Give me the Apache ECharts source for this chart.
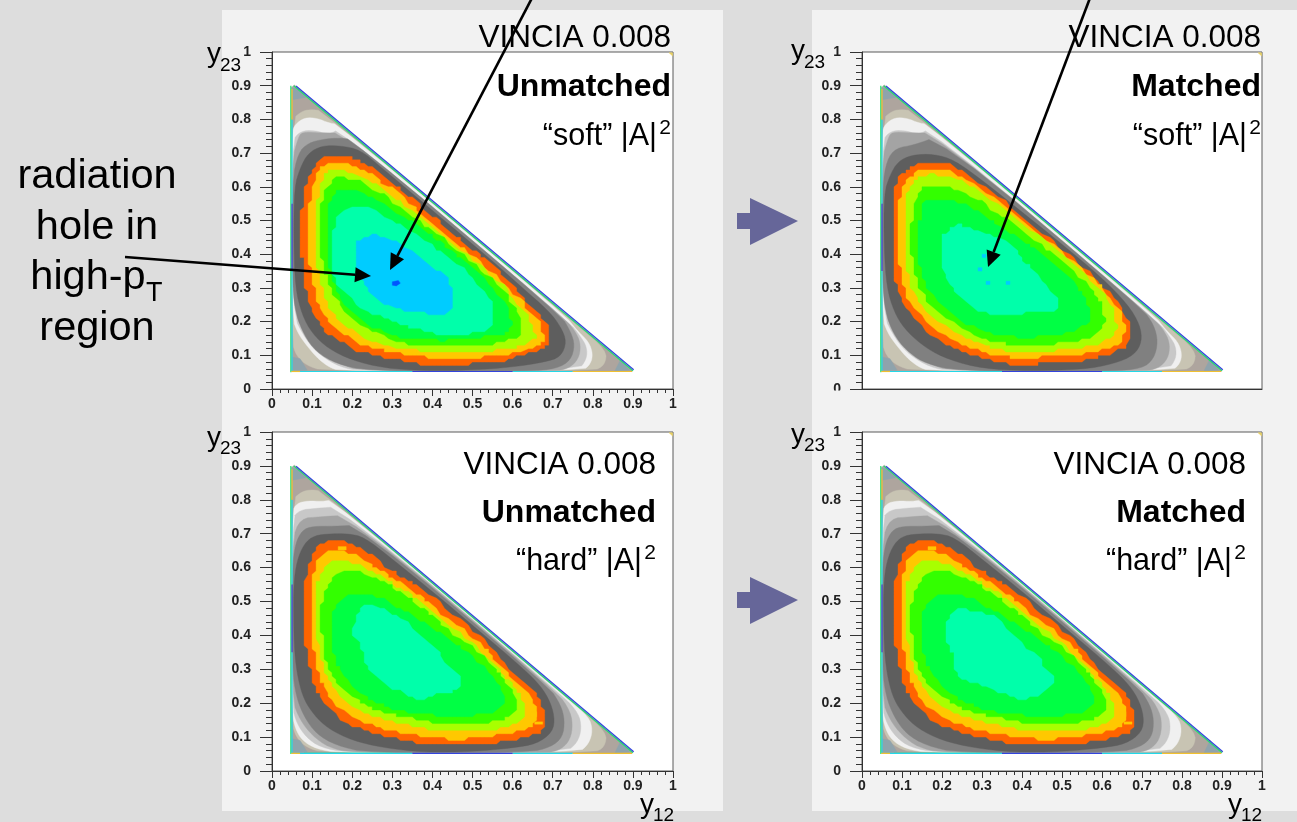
<!DOCTYPE html>
<html><head><meta charset="utf-8">
<style>html,body{margin:0;padding:0;background:#DDDDDD}#c{width:1297px;height:822px}</style>
<script src="https://cdn.jsdelivr.net/npm/echarts@6/dist/echarts.min.js"></script>
</head><body><div id="c"></div>
<script>
// ---- contour outlines in (y12, y23) ----
const phaseSpace=[[.048,.052],[.048,.895],[.056,.902],[.90,.056],[.898,.052]];
const cornerTL=[[.051,.893],[.062,.893],[.085,.865],[.051,.858]];
const cornerBL=[[.051,.095],[.07,.09],[.088,.056],[.051,.054]];
const cornerBR=[[.87,.09],[.892,.056],[.855,.054]];
const cornerFar=[[.99,.998],[.999,.998],[.999,.988]];
const taupeBand=[[.05,.80],[.075,.825],[.10,.83],[.125,.825],[.76,.19],[.835,.115],[.83,.07],[.80,.053],[.13,.053],[.085,.07],[.06,.10],[.05,.14]];

const softWhite=[[.05,.76],[.057,.785],[.082,.806],[.115,.803],[.14,.79],[.165,.785],[.73,.22],[.76,.175],[.79,.14],[.80,.105],[.795,.075],[.775,.054],[.17,.053],[.14,.066],[.11,.095],[.082,.136],[.065,.165],[.05,.21]];
const softGray1=[[.05,.735],[.07,.765],[.105,.768],[.14,.755],[.17,.772],[.74,.20],[.77,.155],[.785,.125],[.785,.09],[.765,.056],[.22,.053],[.17,.065],[.12,.10],[.085,.145],[.05,.225]];
const softGray2=[[.05,.68],[.065,.745],[.075,.763],[.12,.76],[.18,.76],[.73,.21],[.76,.165],[.77,.13],[.765,.09],[.74,.06],[.70,.053],[.22,.053],[.17,.075],[.125,.105],[.09,.15],[.05,.24]];
const hardWhite=[[.05,.765],[.062,.79],[.09,.797],[.125,.795],[.152,.80],[.74,.21],[.79,.16],[.80,.12],[.79,.08],[.765,.054],[.17,.053],[.11,.065],[.075,.09],[.058,.125],[.05,.17]];
const hardGray1=[[.05,.745],[.07,.77],[.11,.775],[.168,.78],[.725,.222],[.765,.17],[.772,.125],[.762,.085],[.735,.056],[.19,.053],[.12,.07],[.085,.10],[.062,.14],[.05,.19]];
const hardGray2=[[.05,.68],[.07,.745],[.12,.75],[.19,.755],[.71,.235],[.745,.175],[.75,.125],[.74,.085],[.715,.06],[.68,.053],[.20,.053],[.14,.07],[.10,.105],[.07,.15],[.05,.21]];
const hardGray3=[[.051,.60],[.058,.67],[.075,.71],[.10,.722],[.155,.722],[.215,.725],[.69,.25],[.72,.195],[.73,.15],[.725,.10],[.695,.07],[.64,.055],[.24,.053],[.16,.075],[.11,.11],[.08,.16],[.06,.22],[.051,.30]];
const hardDark=[[.054,.55],[.062,.62],[.08,.67],[.105,.695],[.15,.70],[.19,.70],[.23,.69],[.30,.625],[.40,.53],[.50,.43],[.60,.33],[.66,.265],[.69,.215],[.705,.16],[.70,.115],[.66,.08],[.60,.068],[.50,.057],[.38,.055],[.28,.068],[.20,.09],[.14,.125],[.105,.165],[.08,.21],[.065,.27],[.056,.35],[.054,.45]];

const p1Gray3=[[.051,.62],[.065,.70],[.09,.73],[.13,.742],[.17,.745],[.20,.74],[.72,.22],[.745,.17],[.755,.13],[.745,.085],[.71,.06],[.64,.053],[.24,.053],[.16,.075],[.11,.11],[.08,.16],[.06,.22],[.051,.30]];
const p1Dark=[[.056,.60],[.07,.655],[.09,.70],[.125,.722],[.17,.722],[.22,.71],[.27,.66],[.40,.53],[.55,.38],[.62,.305],[.69,.232],[.72,.185],[.735,.14],[.72,.095],[.68,.08],[.60,.065],[.50,.056],[.38,.054],[.28,.062],[.20,.085],[.14,.12],[.10,.165],[.075,.22],[.058,.30],[.054,.45]];
const p1Orange=[[.137,.695],[.170,.694],[.199,.687],[.228,.669],[.261,.649],[.295,.614],[.328,.585],[.362,.555],[.395,.520],[.428,.481],[.461,.451],[.495,.416],[.528,.392],[.561,.352],[.594,.317],[.624,.277],[.653,.237],[.686,.198],[.698,.144],[.677,.120],[.636,.105],[.569,.080],[.503,.075],[.436,.070],[.403,.065],[.353,.080],[.287,.090],[.220,.110],[.170,.140],[.137,.165],[.112,.205],[.091,.264],[.079,.323],[.075,.383],[.071,.462],[.075,.541],[.079,.590],[.096,.640],[.112,.675]];
const p1Amber=[[.14,.675],[.17,.672],[.21,.655],[.25,.635],[.29,.60],[.335,.562],[.39,.50],[.44,.45],[.50,.395],[.55,.345],[.60,.29],[.64,.235],[.67,.19],[.68,.145],[.66,.125],[.60,.105],[.53,.095],[.44,.088],[.36,.098],[.29,.11],[.23,.13],[.18,.16],[.145,.195],[.12,.24],[.105,.30],[.093,.37],[.09,.46],[.093,.54],[.10,.60],[.115,.645]];
const p1Lime=[[.15,.655],[.20,.64],[.24,.62],[.29,.58],[.34,.54],[.40,.48],[.45,.43],[.51,.375],[.56,.325],[.60,.275],[.635,.22],[.655,.175],[.655,.14],[.60,.12],[.52,.11],[.44,.105],[.36,.115],[.30,.125],[.24,.145],[.19,.18],[.16,.215],[.135,.26],[.12,.32],[.11,.38],[.107,.46],[.11,.54],[.12,.60],[.13,.635]];
const p1Green=[[.155,.63],[.21,.62],[.26,.59],[.31,.55],[.36,.505],[.42,.45],[.47,.405],[.53,.345],[.575,.295],[.605,.245],[.625,.195],[.62,.155],[.56,.135],[.48,.125],[.40,.125],[.33,.135],[.27,.16],[.215,.195],[.175,.24],[.15,.29],[.13,.35],[.118,.43],[.118,.52],[.13,.585]];
const p1Mint=[[.165,.595],[.22,.585],[.27,.555],[.32,.52],[.38,.47],[.44,.415],[.50,.36],[.55,.305],[.585,.25],[.60,.19],[.585,.165],[.53,.155],[.46,.145],[.39,.145],[.32,.152],[.26,.18],[.21,.215],[.175,.26],[.155,.31],[.14,.38],[.137,.46],[.14,.53],[.15,.57]];
const p1Spring=[[.17,.536],[.237,.541],[.287,.511],[.353,.462],[.403,.422],[.47,.363],[.52,.304],[.553,.254],[.553,.18],[.486,.16],[.42,.16],[.353,.18],[.287,.205],[.229,.234],[.179,.284],[.154,.333],[.145,.393],[.15,.462]];
const p1Sky=[[.212,.442],[.254,.462],[.303,.442],[.353,.403],[.395,.368],[.44,.333],[.453,.284],[.445,.215],[.387,.225],[.337,.23],[.287,.249],[.245,.284],[.229,.314],[.212,.363],[.204,.412]];
const p1Blue=[[.300,.318],[.315,.322],[.32,.314],[.31,.306],[.30,.308]];

const p2Gray3=[[.051,.60],[.062,.68],[.085,.715],[.13,.724],[.19,.75],[.70,.24],[.73,.19],[.74,.14],[.73,.09],[.70,.06],[.62,.053],[.24,.053],[.16,.075],[.12,.105],[.085,.15],[.062,.21],[.051,.30]];
const p2Dark=[[.055,.58],[.07,.635],[.09,.675],[.125,.695],[.18,.697],[.23,.68],[.30,.62],[.40,.525],[.50,.43],[.60,.33],[.665,.25],[.695,.19],[.70,.14],[.68,.10],[.63,.075],[.55,.057],[.38,.054],[.28,.065],[.20,.095],[.15,.13],[.105,.18],[.08,.23],[.062,.30],[.055,.42]];
const p2Orange=[[.141,.67],[.187,.675],[.22,.665],[.262,.635],[.312,.59],[.362,.551],[.411,.501],[.461,.452],[.511,.408],[.561,.353],[.611,.294],[.653,.234],[.676,.18],[.665,.126],[.611,.101],[.544,.081],[.47,.081],[.403,.068],[.328,.081],[.245,.111],[.179,.155],[.129,.205],[.096,.264],[.083,.323],[.075,.403],[.075,.511],[.081,.60],[.096,.635],[.12,.655]];
const p2Amber=[[.145,.65],[.19,.655],[.225,.645],[.27,.615],[.32,.575],[.37,.53],[.42,.48],[.47,.435],[.52,.39],[.57,.335],[.62,.275],[.65,.22],[.66,.17],[.645,.135],[.60,.115],[.53,.10],[.46,.097],[.40,.09],[.33,.10],[.26,.125],[.20,.16],[.15,.21],[.115,.265],[.10,.325],[.09,.40],[.09,.51],[.097,.59],[.115,.625]];
const p2Lime=[[.15,.635],[.20,.635],[.24,.62],[.28,.595],[.33,.555],[.38,.51],[.43,.465],[.48,.42],[.53,.37],[.58,.315],[.62,.26],[.635,.205],[.635,.165],[.60,.135],[.53,.12],[.46,.112],[.39,.108],[.33,.12],[.27,.145],[.21,.18],[.165,.225],[.13,.28],[.115,.335],[.105,.41],[.105,.51],[.112,.575],[.13,.615]];
const p2Green=[[.16,.605],[.22,.60],[.28,.57],[.33,.53],[.39,.48],[.44,.435],[.50,.38],[.55,.325],[.595,.265],[.61,.20],[.595,.16],[.53,.14],[.46,.132],[.39,.13],[.32,.14],[.26,.17],[.205,.21],[.165,.255],[.14,.31],[.125,.38],[.122,.47],[.13,.55],[.145,.59]];
const p2Mint=[[.16,.565],[.22,.565],[.28,.535],[.34,.485],[.40,.44],[.46,.39],[.51,.34],[.555,.28],[.575,.215],[.555,.18],[.49,.16],[.41,.152],[.33,.16],[.27,.19],[.22,.225],[.18,.27],[.155,.32],[.14,.39],[.14,.47],[.15,.54]];
const p2Spring=[[.204,.462],[.237,.49],[.262,.48],[.312,.462],[.362,.442],[.411,.373],[.461,.313],[.495,.264],[.49,.234],[.428,.229],[.362,.215],[.295,.229],[.254,.264],[.22,.304],[.2,.363],[.195,.422]];
const p2SkyA=[[.306,.322],[.32,.322],[.322,.31],[.306,.31]];
const p2SkyB=[[.29,.356],[.30,.356],[.30,.346],[.29,.346]];
const p2SkyC=[[.304,.404],[.312,.404],[.312,.392],[.304,.392]];
const p2SkyD=[[.36,.324],[.372,.324],[.372,.314],[.36,.314]];

const hardOrange=[[.125,.68],[.187,.677],[.22,.657],[.262,.623],[.32,.573],[.387,.529],[.436,.475],[.486,.435],[.536,.381],[.578,.327],[.619,.268],[.653,.238],[.677,.189],[.68,.12],[.653,.105],[.586,.086],[.486,.079],[.42,.076],[.337,.086],[.254,.11],[.195,.135],[.137,.184],[.108,.238],[.091,.317],[.079,.406],[.079,.485],[.086,.593],[.108,.642]];
const hardAmber=[[.133,.657],[.187,.647],[.237,.618],[.303,.568],[.37,.519],[.428,.455],[.486,.411],[.536,.357],[.586,.288],[.636,.233],[.661,.179],[.657,.135],[.611,.115],[.536,.10],[.453,.091],[.353,.105],[.27,.125],[.212,.155],[.154,.199],[.125,.253],[.108,.327],[.096,.426],[.096,.524],[.104,.593]];
const hardLime=[[.141,.623],[.195,.618],[.254,.588],[.32,.539],[.387,.485],[.445,.426],[.503,.376],[.553,.317],[.603,.248],[.636,.189],[.632,.15],[.569,.125],[.486,.115],[.403,.12],[.32,.14],[.254,.16],[.195,.189],[.15,.243],[.129,.307],[.112,.396],[.108,.504],[.116,.573]];
const hardGreen=[[.154,.583],[.212,.593],[.27,.564],[.337,.514],[.403,.455],[.461,.396],[.52,.347],[.569,.288],[.611,.219],[.615,.169],[.553,.145],[.47,.135],[.387,.145],[.303,.165],[.237,.189],[.179,.233],[.141,.298],[.125,.386],[.121,.475],[.133,.534]];
const hardMint=[[.18,.525],[.25,.52],[.32,.48],[.39,.43],[.45,.38],[.51,.33],[.555,.27],[.585,.215],[.56,.175],[.48,.16],[.39,.165],[.31,.18],[.24,.21],[.19,.26],[.16,.32],[.145,.39],[.15,.47]];
const p3Spring=[[.229,.495],[.27,.48],[.32,.455],[.362,.406],[.403,.367],[.436,.317],[.478,.278],[.461,.238],[.42,.229],[.37,.209],[.32,.229],[.278,.268],[.237,.298],[.229,.357],[.195,.406],[.212,.455]];
const p4Spring=[[.233,.48],[.278,.475],[.337,.455],[.378,.406],[.42,.357],[.461,.308],[.486,.268],[.445,.219],[.387,.209],[.337,.238],[.278,.258],[.233,.278],[.229,.347],[.204,.406],[.212,.445]];
// small amber specks inside the orange ring of the "hard" panels
const hardSpeckA=[[.165,.662],[.185,.662],[.185,.652],[.165,.652]];
const hardSpeckB=[[.645,.175],[.66,.175],[.66,.16],[.645,.16]];
const hardSpeckC=[[.655,.145],[.675,.145],[.675,.138],[.655,.138]];

// rim of the phase-space triangle: [x1,y1,x2,y2]
const rimGreen=[[.047,.05,.047,.9],[.054,.9,.90,.054],[.3,.052,.08,.052]];
const rimCyan=[[.05,.052,.05,.35],[.05,.55,.05,.8],[.06,.052,.35,.052],[.60,.052,.75,.052]];
const rimBlue=[[.05,.35,.05,.55],[.35,.052,.60,.052],[.06,.899,.902,.057]];
const rimWarm=[[.05,.8,.05,.89],[.75,.052,.898,.052],[.048,.052,.07,.052]];

const levelColors={phase:'#AEA59E',taupe:'#C8C4B3',white:'#F0F0F0',gray1:'#C8C8C8',gray2:'#A4A4A4',gray3:'#808080',dark:'#5E5E5E',orange:'#FF6400',amber:'#FFC800',lime:'#A8FF00',green:'#33FF00',mint:'#00FF44',spring:'#00FFAA',sky:'#00CCFF',blue:'#0055FF',corner:'#8FA3AC',far:'#E8D060'};
const jagged={orange:1,amber:1,lime:1,green:1,mint:1,spring:1,sky:1};
const rounded={taupe:1,white:1,gray1:1,gray2:1,gray3:1,dark:1,orange:1,amber:1,lime:1,green:1,mint:1,spring:1,sky:1};
const outer=[['phase',phaseSpace],['taupe',taupeBand]];
const corners=[['corner',cornerTL],['corner',cornerBL],['corner',cornerBR],['far',cornerFar]];
const specks=[['speck',hardSpeckA],['speck',hardSpeckB],['speck',hardSpeckC]];
levelColors.speck=levelColors.amber;
const panels=[
 {grid:{left:272,top:52,width:401,height:337},showX:true,levels:[...outer,['white',softWhite],['gray1',softGray1],['gray2',softGray2],['gray3',p1Gray3],['dark',p1Dark],['orange',p1Orange],['amber',p1Amber],['lime',p1Lime],['green',p1Green],['mint',p1Mint],['spring',p1Spring],['sky',p1Sky],['blue',p1Blue],...corners]},
 {grid:{left:862,top:52,width:400,height:337},showX:false,levels:[...outer,['white',softWhite],['gray1',softGray1],['gray2',softGray2],['gray3',p2Gray3],['dark',p2Dark],['orange',p2Orange],['amber',p2Amber],['lime',p2Lime],['green',p2Green],['mint',p2Mint],['spring',p2Spring],['sky',p2SkyA],['sky',p2SkyB],['sky',p2SkyC],['sky',p2SkyD],...corners]},
 {grid:{left:272,top:432,width:401,height:339},showX:true,levels:[...outer,['white',hardWhite],['gray1',hardGray1],['gray2',hardGray2],['gray3',hardGray3],['dark',hardDark],['orange',hardOrange],['amber',hardAmber],['lime',hardLime],['green',hardGreen],['mint',hardMint],['spring',p3Spring],...specks,...corners]},
 {grid:{left:862,top:432,width:400,height:339},showX:true,levels:[...outer,['white',hardWhite],['gray1',hardGray1],['gray2',hardGray2],['gray3',hardGray3],['dark',hardDark],['orange',hardOrange],['amber',hardAmber],['lime',hardLime],['green',hardGreen],['mint',hardMint],['spring',p4Spring],...specks,...corners]}
];
const rims=[['#22E070',rimGreen],['#22D8E8',rimCyan],['#3344DD',rimBlue],['#F0C030',rimWarm]];

// round the outline corners
function rounder(points){
  let cur=points;
  for(let it=0;it<2;it++){
    const out=[];
    for(let i=0;i<cur.length;i++){
      const a=cur[i],b=cur[(i+1)%cur.length];
      out.push([a[0]*.75+b[0]*.25,a[1]*.75+b[1]*.25],[a[0]*.25+b[0]*.75,a[1]*.25+b[1]*.75]);
    }
    cur=out;
  }
  return cur;
}
// histogram-bin look: walk each outline through the 0.01 bins
function binned(points){
  const out=[];
  for(let i=0;i<points.length;i++){
    const a=points[i],b=points[(i+1)%points.length];
    const n=Math.max(1,Math.round(Math.max(Math.abs(b[0]-a[0]),Math.abs(b[1]-a[1]))/0.01));
    for(let k=0;k<n;k++){
      const x=a[0]+(b[0]-a[0])*k/n,y=a[1]+(b[1]-a[1])*k/n;
      out.push([Math.round(x*100)/100,Math.round(y*100)/100]);
    }
  }
  return out;
}

const tickFont={fontFamily:'"Liberation Sans",Arial,sans-serif',fontWeight:'bold',fontSize:14,color:'#222'};
const grids=[],xAxes=[],yAxes=[],series=[];
panels.forEach((p,i)=>{
  grids.push({...p.grid,show:true,backgroundColor:'#FFFFFF',borderColor:'#5A5A5A',borderWidth:1,containLabel:false});
  xAxes.push({type:'value',gridIndex:i,min:0,max:1,interval:0.1,splitLine:{show:false},
    axisLine:{show:true,onZero:false,lineStyle:{color:'#333'}},
    axisTick:{show:p.showX,length:7,lineStyle:{color:'#333'}},
    minorTick:{show:p.showX,splitNumber:5,length:4,lineStyle:{color:'#333'}},
    axisLabel:{show:p.showX,margin:8,hideOverlap:false,showMinLabel:true,showMaxLabel:true,...tickFont}});
  yAxes.push({type:'value',gridIndex:i,min:0,max:1,interval:0.1,splitLine:{show:false},
    axisLine:{show:true,onZero:false,lineStyle:{color:'#333'}},
    axisTick:{show:true,length:12,lineStyle:{color:'#333'}},
    minorTick:{show:true,splitNumber:5,length:6,lineStyle:{color:'#333'}},
    axisLabel:{show:true,margin:21,hideOverlap:false,showMinLabel:true,showMaxLabel:true,...tickFont}});
  series.push({type:'custom',coordinateSystem:'cartesian2d',xAxisIndex:i,yAxisIndex:i,clip:false,silent:true,animation:false,
    data:p.levels.map((l,k)=>[k]),encode:{x:[],y:[]},
    renderItem(params,api){
      const [name,pts]=p.levels[params.dataIndex];
      let walk=rounded[name]?rounder(pts):pts;
      if(jagged[name]) walk=binned(walk);
      const c=levelColors[name];
      return {type:'polygon',shape:{points:walk.map(q=>api.coord(q))},style:{fill:c,stroke:c,lineWidth:0.4}};
    }});
  rims.forEach(([color,segs])=>{
    series.push({type:'custom',coordinateSystem:'cartesian2d',xAxisIndex:i,yAxisIndex:i,clip:false,silent:true,animation:false,
      data:segs.map((s,k)=>[k]),encode:{x:[],y:[]},
      renderItem(params,api){
        const s=segs[params.dataIndex];
        const a=api.coord([s[0],s[1]]),b=api.coord([s[2],s[3]]);
        return {type:'line',shape:{x1:a[0],y1:a[1],x2:b[0],y2:b[1]},style:{stroke:color,lineWidth:1.2}};
      }});
  });
});

const FF='"Liberation Sans",Arial,sans-serif';
const txt=(s,x,y,fs,align,extra)=>({type:'text',z:90,x,y,silent:true,style:{text:s,fontFamily:FF,fontSize:fs,fill:'#000',align:align,verticalAlign:'middle',...extra}});
function panelText(right,yV,yM,yS,matched,kind){
  return [txt('VINCIA 0.008',right,yV,31.5,'right'),
    txt(matched,right,yM,32,'right',{fontWeight:'bold'}),
    txt('“'+kind+'” |A|',right-14,yS,30.5,'right'),
    txt('2',right,yS-9,21,'right')];
}
function yLabel(x,y,s){return [txt('y',x,y,28,'left'),txt(s,x+13,y+11,19,'left')];}
function arrow(x1,y1,x2,y2){
  const L=Math.hypot(x2-x1,y2-y1),ux=(x2-x1)/L,uy=(y2-y1)/L,len=16,hw=7.5;
  const bx=x2-ux*len,by=y2-uy*len;
  return [{type:'line',z:95,silent:true,shape:{x1,y1,x2:bx,y2:by},style:{stroke:'#000',lineWidth:2.6}},
    {type:'polygon',z:95,silent:true,shape:{points:[[x2,y2],[bx-uy*hw,by+ux*hw],[bx+uy*hw,by-ux*hw]]},style:{fill:'#000'}}];
}
function block(cy){
  return {type:'polygon',z:95,silent:true,shape:{points:[[737,cy-8],[750,cy-8],[750,cy-23],[798,cy],[750,cy+24],[750,cy+8],[737,cy+8]]},style:{fill:'#666699'}};
}
const graphics=[
  {type:'rect',z:-5,silent:true,shape:{x:222,y:10,width:501,height:801},style:{fill:'#F2F2F2'}},
  {type:'rect',z:-5,silent:true,shape:{x:812,y:10,width:485,height:801},style:{fill:'#F2F2F2'}},
  {type:'rect',z:60,silent:true,shape:{x:815,y:390.5,width:482,height:34},style:{fill:'#F2F2F2'}},
  ...panelText(671,38,87,137,'Unmatched','soft'),
  ...panelText(1261,38,87,137,'Matched','soft'),
  ...panelText(656,465,513,562,'Unmatched','hard'),
  ...panelText(1246,465,513,562,'Matched','hard'),
  ...yLabel(207,54.5,'23'),...yLabel(791,51.5,'23'),...yLabel(207,438,'23'),...yLabel(791,435,'23'),
  ...yLabel(640,805,'12'),...yLabel(1228,805,'12'),
  txt('radiation',97,177,41.5,'center'),txt('hole in',97,228,41.5,'center'),
  txt('high-p',88,278,41.5,'center'),txt('T',146,294,27,'left'),txt('region',97,329,41.5,'center'),
  ...arrow(125,257,371,276),...arrow(532,-2,390,270),...arrow(1090,-2,988,267),
  block(221),block(600)
];

const chart=echarts.init(document.getElementById('c'),null,{renderer:'canvas',width:1297,height:822});
chart.setOption({animation:false,backgroundColor:'#DDDDDD',grid:grids,xAxis:xAxes,yAxis:yAxes,series,graphic:{elements:graphics}});
</script></body></html>
